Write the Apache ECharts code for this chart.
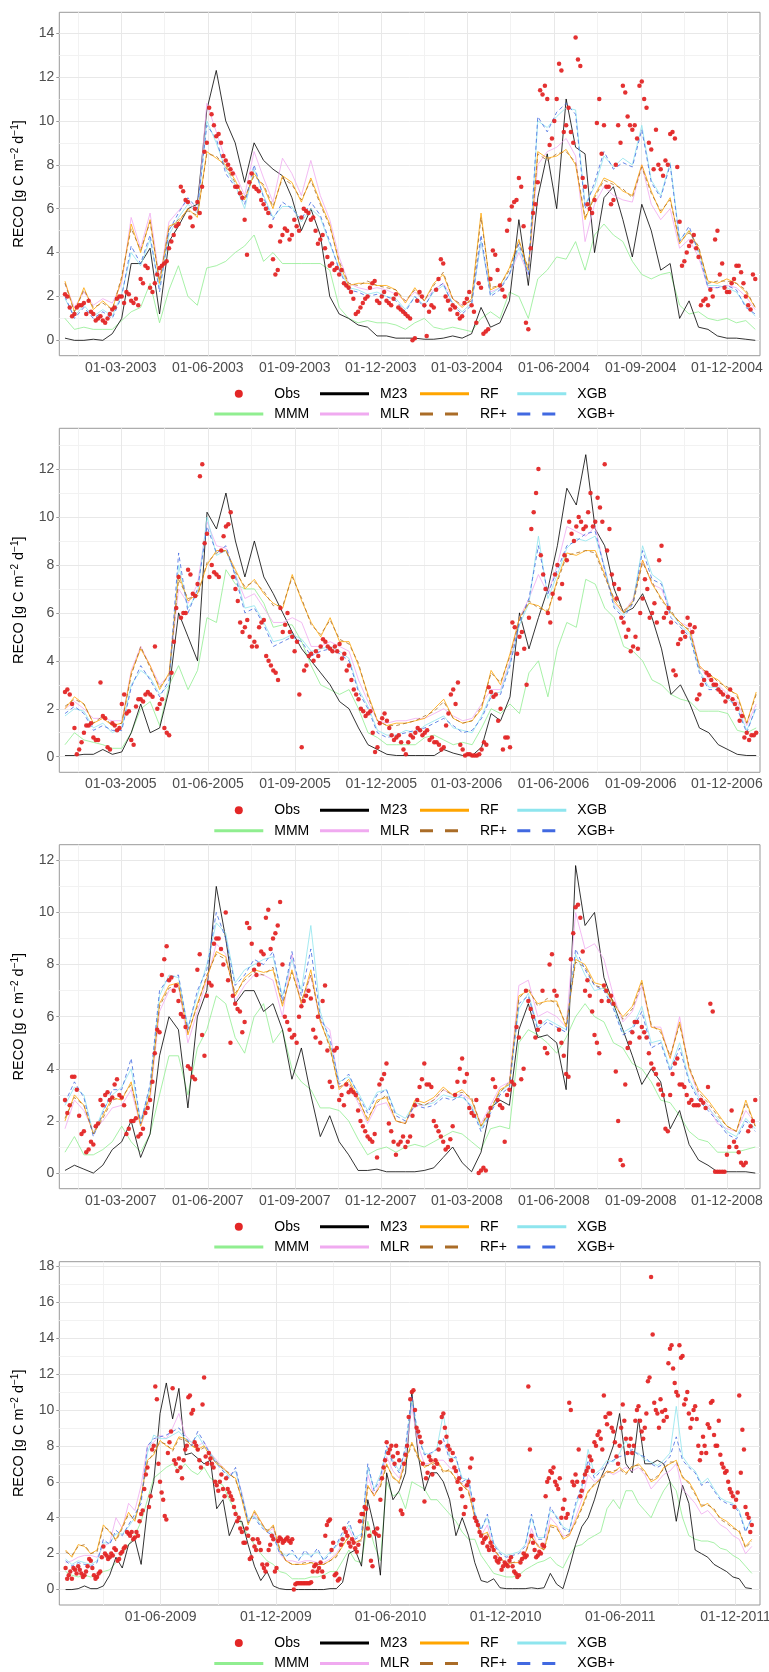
<!DOCTYPE html>
<html>
<head>
<meta charset="utf-8">
<script src="https://cdn.jsdelivr.net/npm/echarts@6/dist/echarts.min.js"></script>
<style>
  html, body { margin: 0; padding: 0; background: #fff; }
  #main { width: 769px; height: 1672px; }
</style>
</head>
<body>
<div id="main"></div>
<script>
// ---------- Daily ecosystem respiration (RECO), observed vs. models ----------
// Model series sampled every 10 days; observations every 5 days (a second set
// of observations sits 2.5 days after the first one).
const LINE_STEP = 10;
const OBS_STEP = 5;
const OBS_B_OFFSET = 2.5;

// Panel 1: 2003-2004
const p1Start = '2003-01-01';
const p1Ticks = ['2003-03-01','2003-06-01','2003-09-01','2003-12-01','2004-03-01','2004-06-01','2004-09-01','2004-12-01'];
const p1Obs = [2.1,1.5,1.2,1.6,1.7,1.8,1.2,1.0,0.9,1.0, 1.4,1.9,2.0,2.2,1.8,1.9,2.8,3.4,2.4,2.6, 3.3,3.5,4.2,4.8,5.3,6.8,6.3,5.2,6.3,7.0, 9.0,10.3,9.3,9.0,8.2,7.8,7.0,6.7,5.5,7.2, 7.0,6.8,6.2,5.8,3.7,3.2,4.8,5.0,4.8,5.2, 5.6,5.9,5.5,5.0,4.6,4.2,3.4,3.2,3.0,2.6, 2.4,1.9,1.3,1.7,2.0,2.6,1.8,2.0,1.8,1.6, 2.1,1.4,1.2,1.0,0.1,2.2,1.6,1.3,1.5,2.8, 3.5,1.8,1.6,1.2,1.1,1.9,1.6,0.8,2.4,0.4, 2.8,3.9,2.5,2.0,5.5,6.3,7.4,5.2,0.5,5.8, 7.2,11.2,11.0,9.2,11.0,12.3,9.8,9.5,13.8,12.5, 7.0,6.0,6.4,11.0,9.8,7.0,6.4,9.8,11.6,10.2, 9.6,9.2,11.8,10.6,8.7,9.6,7.8,8.2,9.4,9.2, 5.4,3.6,4.3,4.8,3.8,1.8,1.6,2.0,5.0,3.5, 2.2,2.6,3.4,3.1,2.0,1.4,2.8];
const p1ObsB = [2.0,1.1,1.5,1.6,1.2,1.3,0.9,1.1,0.8,1.2, 1.5,2.0,1.7,2.1,1.7,1.6,2.6,3.3,2.2,3.0, 3.4,3.6,4.5,5.2,7.0,6.4,5.6,6.0,5.8,8.6, 10.6,9.8,9.4,8.4,8.0,7.6,7.0,6.5,3.9,7.6, 6.9,6.4,6.0,5.2,3.0,4.5,5.1,4.6,5.5,5.0, 6.0,5.8,5.6,4.4,4.8,3.8,3.5,3.3,3.2,2.5, 2.2,1.2,1.5,1.9,2.4,2.7,1.7,2.2,1.7,1.9, 1.5,1.3,1.1,0.0,1.8,2.0,0.2,1.6,2.3,3.7, 2.0,1.4,1.5,1.0,1.7,2.2,1.3,2.6,0.3,0.5, 4.1,3.2,2.3,5.0,6.1,6.4,7.0,0.8,4.2,6.2, 11.4,11.6,8.9,10.0,12.6,9.5,10.6,9.0,12.8,7.4, 6.2,5.8,9.9,8.5,7.0,6.2,8.0,9.0,11.3,9.8, 9.8,11.6,11.0,9.0,7.8,8.0,7.5,8.0,9.5,7.9, 3.4,4.0,4.5,4.2,1.6,1.9,2.3,4.6,3.0,2.4, 2.2,2.8,3.4,2.6,1.6,3.0];
const p1M23 = [0.1,0.0,0.0,0.05,0.0,0.3,1.0,3.5,3.5,4.2, 1.2,4.5,5.2,6.0,6.2,10.5,12.3,10.0,9.0,7.2, 9.0,8.2,7.8,7.5,6.5,5.0,6.0,4.8,2.0,1.2, 1.0,0.7,0.6,0.2,0.2,0.1,0.1,0.1,0.05,0.05, 0.1,0.2,0.1,0.3,1.5,0.6,0.8,1.8,5.5,2.5, 6.5,8.5,6.0,11.0,8.8,8.5,4.0,6.5,7.0,5.5, 3.8,6.2,5.0,3.2,3.5,1.0,1.8,0.6,0.5,0.2, 0.1,0.1,0.05,0.0];
const p1MMM = [1.0,0.5,0.6,0.5,0.5,0.5,0.9,1.3,1.5,2.6, 0.8,2.3,3.4,2.0,1.6,3.3,3.4,3.6,4.0,4.3, 4.8,3.6,4.0,3.5,3.5,3.5,3.5,3.5,3.2,1.5, 1.0,0.8,0.9,0.8,0.8,0.7,0.5,0.8,1.0,0.6, 0.5,0.6,0.5,0.4,1.0,1.3,1.0,2.2,2.0,1.0, 2.8,3.2,3.8,3.7,4.5,3.2,4.8,5.3,4.8,4.5, 3.6,3.0,2.8,3.0,3.1,1.6,1.2,1.3,1.0,0.9, 1.0,0.8,0.9,0.5];
const p1MLR = [2.6,1.5,2.2,1.6,1.9,1.7,2.6,5.6,4.2,5.8, 2.8,5.4,5.9,6.4,5.8,10.8,9.5,8.2,7.6,6.6, 8.6,7.4,6.3,8.3,7.6,6.6,8.2,6.6,5.5,3.8, 2.6,2.4,2.3,2.4,2.3,2.1,1.8,2.2,1.8,2.3, 2.6,1.9,1.6,1.8,4.5,2.2,2.4,3.0,4.0,3.0, 8.0,8.6,8.8,9.2,8.4,4.5,6.2,7.0,6.6,6.4, 6.3,8.0,6.2,5.5,6.0,4.2,4.6,3.8,2.4,2.4, 2.5,2.4,2.0,1.4];
const p1RF = [2.7,1.3,2.4,1.4,1.8,1.4,2.8,5.3,4.0,5.5, 2.6,5.2,5.4,6.0,5.6,8.6,8.3,8.0,7.3,6.4, 7.6,7.0,6.0,7.5,7.2,6.3,7.4,6.3,5.3,3.5, 2.5,2.6,2.6,2.5,2.5,2.3,1.7,2.4,1.8,2.6, 3.0,1.9,1.5,1.9,5.8,2.3,2.5,3.3,4.6,3.2, 8.6,8.3,8.4,8.7,8.0,5.5,6.6,7.4,7.2,6.8, 6.6,8.0,6.8,5.8,6.5,4.4,5.0,4.2,2.7,2.6, 2.8,2.6,2.2,1.5];
const p1RFp = [2.6,1.3,2.3,1.5,1.7,1.4,2.9,5.1,4.1,5.4, 2.7,5.1,5.5,5.9,5.7,8.5,8.4,7.9,7.2,6.5, 7.5,7.1,6.1,7.4,7.1,6.4,7.3,6.2,5.2,3.6, 2.6,2.5,2.7,2.5,2.4,2.3,1.8,2.3,1.8,2.5, 3.1,1.9,1.6,1.8,5.6,2.4,2.5,3.2,4.5,3.3, 8.5,8.2,8.5,8.6,8.1,5.6,6.5,7.3,7.1,6.9, 6.5,7.9,6.7,5.9,6.4,4.5,4.9,4.3,2.6,2.7, 2.7,2.6,2.3,1.5];
const p1XGB = [1.9,1.1,1.6,1.1,1.4,1.1,2.1,4.0,3.4,4.6, 2.4,4.8,5.6,6.2,5.8,10.0,9.0,7.8,7.1,6.0, 7.8,6.6,5.6,6.1,6.1,5.4,6.0,5.6,4.4,3.3, 2.4,2.3,2.1,2.2,2.0,1.9,1.4,2.0,1.6,2.2, 2.5,1.7,1.3,1.7,4.5,2.1,2.4,3.0,4.2,3.1, 10.0,9.7,10.2,10.6,10.5,6.2,7.0,8.4,7.9,8.3, 8.0,9.8,7.3,6.6,8.1,4.6,5.0,4.1,2.5,2.5, 2.4,2.2,1.6,1.1];
const p1XGBp = [2.0,1.0,1.5,1.0,1.3,1.0,2.0,4.3,3.5,4.8, 2.2,5.0,5.8,6.5,6.0,9.8,9.2,7.6,7.0,6.2, 8.0,6.5,5.5,6.3,6.0,5.5,6.3,5.7,4.5,3.2, 2.3,2.2,2.0,2.1,2.0,1.8,1.3,2.0,1.5,2.3, 2.6,1.6,1.2,1.6,4.8,2.0,2.3,3.0,4.4,3.0, 10.2,9.5,10.4,10.8,10.3,6.0,7.2,8.6,7.8,8.1, 7.9,9.6,7.2,6.5,8.0,4.5,5.2,4.0,2.4,2.4, 2.5,2.3,1.5,1.2];

// Panel 2: 2005-2006
const p2Start = '2005-01-01';
const p2Ticks = ['2005-03-01','2005-06-01','2005-09-01','2005-12-01','2006-03-01','2006-06-01','2006-09-01','2006-12-01'];
const p2Obs = [2.7,2.6,1.2,0.3,1.0,1.3,0.8,0.7,1.7,0.4, 1.4,1.1,2.2,1.8,0.7,2.1,2.4,2.6,2.6,4.6, 2.2,1.2,0.9,4.8,7.5,6.0,7.8,6.8,7.2,12.2, 9.3,8.0,7.6,8.6,9.6,10.2,7.0,5.6,5.4,5.0, 4.8,5.4,5.7,4.0,3.6,3.2,5.2,6.0,5.0,4.8, 0.4,3.8,4.3,4.4,4.6,4.8,4.5,4.6,4.7,4.3, 3.8,2.8,2.4,1.9,1.8,1.0,0.4,1.6,1.5,0.9, 0.8,0.6,0.1,0.9,1.0,1.1,1.0,0.7,0.6,0.5, 0.4,1.8,2.8,3.1,0.3,0.1,0.05,0.05,0.3,0.5, 2.7,2.6,2.0,0.8,0.4,5.4,5.0,4.5,5.8,10.2, 12.0,7.6,6.0,6.8,8.0,7.2,8.2,9.3,9.6,9.8, 9.6,11.0,9.8,10.4,12.2,9.5,7.2,7.0,5.6,5.3, 4.6,4.5,6.6,7.0,6.0,5.6,8.8,6.0,5.6,3.4, 4.9,5.0,5.5,5.4,2.6,3.2,3.4,3.0,2.8,2.6, 2.5,2.4,2.0,1.7,1.0,0.9,1.0];
const p2ObsB = [2.8,2.2,0.1,0.6,1.3,1.4,0.7,3.1,1.6,0.3, 1.3,1.2,2.6,1.9,0.5,2.4,2.3,2.7,2.5,2.0, 2.4,1.0,3.5,6.2,5.8,6.0,7.6,6.7,11.7,8.9, 7.5,7.7,7.5,9.2,9.7,7.5,6.5,5.2,5.7,4.6, 4.6,5.6,4.2,3.8,3.5,6.2,5.5,5.2,4.4,2.6, 3.6,4.2,4.0,4.2,4.9,4.6,4.4,4.4,4.1,3.6, 3.2,2.6,2.0,1.7,1.9,0.2,1.4,1.8,1.2,0.7, 0.9,0.3,0.6,0.8,1.2,0.9,1.1,0.8,0.6,0.3, 1.3,2.6,2.2,0.5,0.05,0.1,0.05,0.1,0.6,2.9, 2.5,1.5,0.3,0.8,5.6,4.3,5.2,3.0,9.5,11.0, 8.4,7.0,5.6,7.6,6.6,8.4,9.8,9.0,10.0,9.5, 10.2,9.6,10.8,9.8,8.6,7.6,6.6,5.8,5.0,4.4, 5.0,6.0,7.4,5.8,6.4,8.2,5.8,6.2,3.6,4.7, 5.2,5.8,5.2,2.4,3.0,3.5,3.2,3.0,2.7,2.3, 2.8,2.2,1.5,0.8,0.7,0.9];
const p2M23 = [0.05,0.05,0.1,0.1,0.3,0.1,0.2,1.0,2.2,1.0, 1.2,2.8,6.0,5.0,4.0,10.2,9.5,11.0,9.0,7.5, 9.0,7.5,6.8,6.0,5.2,4.5,4.0,3.5,3.0,2.3, 2.0,1.2,0.5,0.3,0.1,0.05,0.05,0.05,0.05,0.05, 0.3,0.15,0.05,0.05,0.4,1.8,1.5,2.5,6.0,4.5, 5.8,7.0,8.8,11.2,10.5,12.6,9.5,8.8,7.0,6.0, 6.2,6.8,5.8,4.5,2.6,3.0,2.2,1.2,1.0,0.5, 0.3,0.1,0.05,0.05];
const p2MMM = [0.5,1.0,0.7,0.6,0.5,0.35,0.35,1.0,2.0,2.3, 1.3,3.0,3.8,2.8,3.6,5.8,5.6,7.8,7.2,7.0, 7.0,6.4,5.4,5.5,5.5,4.8,3.8,3.0,2.8,2.6, 2.8,2.0,1.0,0.8,0.5,0.5,0.5,0.5,0.8,0.9, 0.7,0.5,0.6,0.5,1.2,2.0,1.8,2.2,1.8,3.5, 4.0,2.5,4.5,5.6,5.4,7.4,7.2,6.2,5.8,4.6, 4.4,4.0,3.2,3.0,2.6,2.4,2.3,1.9,1.9,1.9, 1.8,1.1,1.0,1.2];
const p2MLR = [2.0,2.3,2.0,1.6,1.6,1.5,1.5,3.6,4.6,3.8, 3.0,3.4,7.0,6.4,7.2,9.8,8.8,8.7,7.6,6.6, 6.8,6.2,5.6,5.6,5.8,5.6,4.6,4.6,4.8,4.6, 4.4,3.2,2.3,1.5,1.4,1.5,1.5,1.6,1.6,1.8, 2.0,1.7,1.5,1.6,2.2,2.8,2.8,4.0,5.8,6.6, 7.6,6.8,8.0,9.6,9.4,9.2,9.6,7.8,6.4,6.0, 6.6,8.2,7.2,7.0,6.0,5.6,5.4,3.8,3.2,3.0, 2.6,2.3,1.3,2.2];
const p2RF = [2.0,2.5,2.2,1.4,1.6,1.3,1.4,3.5,4.5,3.8, 2.8,3.5,7.6,6.5,6.8,8.0,8.6,8.6,7.8,7.0, 7.4,6.8,6.4,6.2,7.6,6.5,5.6,5.0,5.8,4.8, 4.8,3.8,2.6,1.5,1.3,1.4,1.4,1.5,1.6,2.0, 2.4,1.6,1.4,1.5,2.0,3.6,3.0,4.3,5.8,6.4, 6.3,6.0,7.4,8.5,8.4,8.6,8.6,7.6,6.5,6.0, 6.5,8.2,7.2,6.6,6.0,5.6,5.2,3.8,3.4,3.2, 2.8,2.6,1.4,2.7];
const p2RFp = [2.1,2.4,2.2,1.4,1.7,1.3,1.4,3.4,4.6,3.7, 2.9,3.4,7.4,6.6,6.7,8.1,8.5,8.6,7.7,7.1, 7.3,6.9,6.3,6.3,7.5,6.6,5.5,5.1,5.7,4.9, 4.7,3.9,2.5,1.5,1.3,1.3,1.4,1.5,1.7,1.9, 2.3,1.6,1.4,1.5,2.1,3.5,3.1,4.2,5.7,6.5, 6.2,6.1,7.3,8.4,8.5,8.6,8.5,7.5,6.6,6.1, 6.4,8.1,7.3,6.5,6.1,5.5,5.3,3.7,3.5,3.1, 2.9,2.5,1.4,2.6];
const p2XGB = [1.7,2.0,1.9,1.2,1.4,1.0,1.2,3.0,3.6,3.3, 2.6,3.0,8.0,6.2,6.8,10.0,8.4,8.6,7.6,6.2, 6.3,5.6,4.8,4.9,5.1,4.9,4.4,4.5,4.6,4.4, 4.1,2.8,2.1,1.1,0.9,0.9,1.1,1.0,1.3,1.5, 1.7,1.2,1.1,1.0,1.7,2.6,2.7,3.9,5.5,6.4, 9.2,6.6,7.6,8.7,9.1,9.0,9.2,7.9,6.3,5.9, 6.5,8.8,7.6,7.3,6.0,5.5,5.1,3.6,2.9,2.9, 2.4,2.1,1.1,2.0];
const p2XGBp = [1.8,2.1,1.8,1.1,1.3,1.1,1.1,2.9,3.8,3.2, 2.5,3.2,8.5,6.0,7.0,9.6,8.5,8.8,7.5,6.0, 6.2,5.5,4.6,4.8,5.0,4.8,4.2,4.4,4.5,4.3, 4.0,2.7,2.0,1.0,0.8,0.9,1.0,1.1,1.2,1.4, 1.6,1.3,1.0,1.1,1.6,2.5,2.6,3.8,5.6,6.6, 8.8,6.8,7.8,8.8,9.0,9.3,9.4,7.8,6.2,5.8, 6.4,8.6,7.4,7.2,5.8,5.4,5.0,3.5,2.8,2.8, 2.5,2.0,1.0,2.1];

// Panel 3: 2007-2008
const p3Start = '2007-01-01';
const p3Ticks = ['2007-03-01','2007-06-01','2007-09-01','2007-12-01','2008-03-01','2008-06-01','2008-09-01','2008-12-01'];
const p3Obs = [2.8,2.6,3.7,2.2,1.6,0.9,1.1,1.9,2.6,3.1, 2.9,3.6,2.9,1.5,2.0,2.1,1.5,2.3,2.8,4.6, 5.4,8.2,7.4,7.0,6.6,6.0,4.1,3.7,7.8,5.3, 6.8,7.2,9.0,8.6,10.0,5.0,6.5,6.2,5.8,9.4, 7.8,8.0,8.4,10.1,9.0,9.5,8.0,5.8,5.2,5.0, 6.4,6.8,6.7,5.2,5.0,7.2,3.5,4.7,2.8,2.6, 3.1,3.1,2.4,1.8,1.4,1.2,0.6,3.6,4.2,1.6, 0.7,1.2,1.0,1.4,2.6,3.3,4.2,3.4,2.0,1.6, 1.2,1.0,1.8,3.5,4.4,3.8,2.3,2.8,0.1,0.1, 2.5,3.3,2.6,1.2,3.2,3.4,5.2,4.0,6.6,6.0, 5.5,7.0,4.6,8.4,6.8,5.0,3.8,8.2,10.2,9.8, 7.0,6.8,5.3,4.6,7.2,6.6,6.5,2.0,0.3,4.8, 5.4,5.8,5.6,5.2,4.2,3.8,3.2,1.7,3.0,4.2, 3.4,3.3,2.7,2.6,2.6,2.7,3.3,6.2,0.05,0.05, 0.7,2.4,1.0,0.4,0.4,1.8,2.8];
const p3ObsB = [2.3,3.7,3.2,1.5,0.8,1.2,1.8,2.8,3.0,2.8, 3.4,3.0,2.6,1.7,2.0,1.4,1.7,2.5,3.5,5.5, 7.6,8.7,7.5,7.2,6.1,5.6,4.0,3.6,8.4,4.5, 7.3,8.8,9.0,8.0,7.4,6.8,6.3,5.4,9.6,8.8, 7.6,8.5,9.8,8.6,9.2,10.4,6.0,5.5,5.3,6.0, 6.6,7.0,5.5,6.0,6.6,4.7,3.3,4.8,3.0,3.4, 3.2,3.0,2.0,1.6,1.3,1.5,3.4,3.8,1.9,1.2, 1.1,1.4,1.2,2.2,2.8,3.6,3.4,3.3,1.8,1.4, 0.9,1.3,3.0,4.0,3.5,2.5,2.2,0.0,0.2,2.2, 3.6,2.8,2.5,3.0,3.5,5.6,3.6,7.0,6.3,5.2, 5.8,4.8,8.0,7.0,5.5,4.5,3.7,9.2,10.3,8.5, 7.4,6.2,5.0,6.6,7.0,6.8,3.9,0.5,3.4,5.0, 5.8,5.2,5.4,4.6,4.0,3.4,3.0,1.6,3.8,4.4, 3.4,3.0,2.8,2.6,2.8,2.5,6.5,0.05,0.05,0.05, 1.0,1.2,0.8,0.3,1.6,2.0];
const p3M23 = [0.1,0.3,0.15,0.0,0.3,0.9,1.2,2.0,0.6,1.5, 4.5,6.0,5.5,2.5,6.0,7.0,11.0,9.0,6.5,7.0, 7.0,6.2,6.5,5.5,3.6,4.8,3.0,1.4,2.2,1.2, 0.7,0.1,0.1,0.15,0.05,0.05,0.05,0.05,0.1,0.2, 0.6,1.0,0.4,0.05,0.8,2.5,2.8,2.6,5.5,6.5, 5.2,5.3,5.0,3.2,11.8,9.5,10.0,7.5,6.5,5.5, 4.5,3.4,4.0,3.5,1.7,2.4,1.1,0.5,0.3,0.05, 0.05,0.05,0.05,0.0];
const p3MMM = [0.8,1.4,0.7,0.7,0.9,1.2,1.8,1.2,0.8,1.5, 3.0,4.5,4.5,3.0,4.8,5.5,6.8,6.5,5.2,4.6, 6.0,6.5,5.0,5.5,4.0,3.5,3.2,2.5,2.5,2.4, 2.0,1.3,0.7,0.9,1.0,0.8,1.0,1.1,1.0,1.2, 1.4,1.6,1.5,1.2,0.9,1.7,1.8,1.7,5.0,5.5, 5.3,5.0,4.6,5.2,6.0,6.5,6.0,5.8,5.0,4.8, 4.2,4.0,3.5,2.8,2.7,2.2,1.6,1.3,1.2,0.8, 0.8,0.8,0.9,1.0];
const p3MLR = [1.7,2.8,2.4,1.6,2.0,2.5,2.6,3.2,1.8,2.8, 6.2,7.0,7.2,5.0,6.2,7.4,8.8,8.4,6.6,7.2, 7.6,7.6,7.4,6.0,8.4,6.4,7.6,5.8,5.5,3.3, 3.4,2.7,1.9,2.6,2.7,2.0,1.9,2.6,2.6,2.8, 3.2,3.0,3.0,2.8,1.9,2.6,3.3,3.5,7.2,7.4, 6.0,6.2,6.0,5.6,10.0,8.6,8.8,8.2,6.8,5.8, 6.2,7.2,5.6,5.6,4.4,6.0,4.0,3.0,2.6,1.9, 1.7,1.6,2.4,1.9];
const p3RF = [2.0,3.0,2.6,1.5,2.2,2.9,2.8,3.5,1.8,3.0, 6.5,7.2,7.3,5.3,6.5,7.5,8.5,8.3,6.8,7.5, 7.8,7.7,7.8,6.4,7.8,6.5,7.8,5.8,4.9,3.2, 3.6,2.9,2.0,2.8,2.9,2.0,1.9,2.8,2.7,2.9, 3.3,3.0,3.2,2.8,1.8,2.4,3.2,3.4,6.8,7.0, 6.5,6.6,6.6,5.6,8.2,8.0,7.3,7.2,6.5,6.0, 6.4,7.4,5.6,5.5,4.4,5.8,4.0,3.2,2.8,2.3, 1.8,1.6,2.8,1.8];
const p3RFp = [2.1,2.9,2.6,1.5,2.1,2.8,2.9,3.4,1.9,3.1, 6.4,7.1,7.2,5.4,6.4,7.6,8.4,8.2,6.9,7.4, 7.7,7.6,7.9,6.5,7.7,6.6,7.6,5.9,4.8,3.3, 3.5,2.8,2.1,2.7,3.0,2.0,1.9,2.7,2.6,2.8, 3.2,3.0,3.1,2.9,1.8,2.5,3.1,3.5,6.7,7.1, 6.4,6.7,6.5,5.7,8.1,7.9,7.2,7.1,6.6,5.9, 6.3,7.3,5.7,5.4,4.5,5.7,4.1,3.1,2.7,2.2, 1.8,1.6,2.7,1.8];
const p3XGB = [2.6,3.3,3.0,1.5,2.4,3.0,3.3,4.0,2.0,3.3, 6.8,7.6,7.5,5.6,6.8,8.0,9.6,9.2,7.3,7.8, 8.0,8.2,8.3,6.8,8.2,7.0,9.5,6.2,5.0,3.5, 3.7,3.1,2.4,3.1,3.2,2.3,2.1,2.7,2.6,2.7, 3.0,2.9,2.9,2.6,1.7,2.4,3.1,3.4,6.3,6.9, 5.6,5.9,5.7,5.5,8.4,7.6,7.0,7.1,6.4,5.4, 5.6,6.4,5.0,5.1,4.0,5.0,3.6,2.9,2.5,2.1, 1.6,1.4,2.1,1.7];
const p3XGBp = [2.7,3.5,2.9,1.4,2.3,3.2,3.2,4.4,1.9,3.4, 7.0,7.5,7.6,5.5,7.0,7.8,10.0,9.0,7.2,7.6, 8.2,8.0,8.5,6.6,8.5,6.8,8.6,6.0,5.2,3.4, 3.8,3.0,2.3,3.0,3.2,2.2,2.0,2.6,2.5,2.6, 2.9,2.8,3.0,2.5,1.6,2.3,3.0,3.3,6.5,6.8, 5.5,5.8,5.6,5.4,8.6,7.8,7.2,7.0,6.3,5.3, 5.5,6.2,4.8,5.0,3.9,4.8,3.5,2.8,2.4,2.0, 1.5,1.3,2.0,1.6];

// Panel 4: 2009-2011
const p4Start = '2009-01-01';
const p4Ticks = ['2009-06-01','2009-12-01','2010-06-01','2010-12-01','2011-06-01','2011-12-01'];
const p4Obs = [1.2,0.8,0.6,1.1,1.3,0.9,0.8,1.3,1.6,0.8, 0.7,1.0,2.4,1.9,1.8,1.9,2.2,1.7,2.1,2.4, 3.1,3.2,2.9,3.0,4.2,5.6,6.8,5.2,8.0,10.6, 6.0,5.0,3.9,8.2,11.2,7.0,7.3,6.2,7.8,10.7, 9.8,8.2,7.8,6.8,11.8,7.0,7.3,6.8,5.8,6.0, 5.6,6.2,5.4,5.0,4.2,4.0,3.2,2.6,3.0,1.8, 2.4,2.8,2.2,1.2,1.4,2.5,2.8,1.2,2.9,2.6, 2.8,2.7,2.8,0.3,0.35,0.35,0.35,0.35,0.4,1.3, 1.0,1.5,0.7,3.6,3.9,2.6,0.9,0.6,2.8,3.2, 2.6,2.8,2.3,2.5,4.2,4.6,3.4,1.6,3.2,3.4, 5.0,6.8,8.2,7.8,7.4,8.0,7.2,4.2,7.5,9.6, 11.0,10.0,8.8,8.2,4.9,6.5,7.2,6.8,7.0,8.2, 9.8,8.5,7.8,7.6,6.6,6.2,5.2,4.6,6.0,7.3, 4.0,3.6,3.0,2.8,2.4,2.6,2.2,1.6,1.7,1.3, 1.4,1.6,1.3,0.9,0.8,1.7,1.8,11.3,3.0,2.2, 1.9,2.0,2.4,6.0,6.6,6.8,5.8,6.2,4.5,4.0, 10.4,6.0,6.4,7.8,5.5,6.4,6.8,7.2,8.2,8.6, 8.4,10.8,9.2,9.8,8.8,7.4,8.0,10.3,8.4,8.0, 7.6,9.4,10.2,8.8,9.0,11.6,17.4,10.4,9.8,10.6, 9.4,9.6,13.4,12.3,11.0,13.6,13.0,10.6,9.8,9.5, 10.2,8.0,7.6,8.0,9.2,10.4,8.6,8.0,7.5,6.8, 6.6,5.6,5.2,5.0,10.8,8.9,4.6,4.0,3.6];
const p4ObsB = [0.6,1.0,1.2,0.9,1.1,0.7,1.0,1.7,1.2,0.6, 0.9,1.8,2.0,1.7,2.0,2.3,1.6,2.0,2.3,3.2, 3.0,2.8,3.2,3.8,4.4,6.4,4.6,7.8,11.3,7.0, 5.4,4.1,7.6,8.8,7.2,6.6,6.8,7.2,8.0,10.8, 10.0,8.0,7.2,10.3,7.4,7.6,7.0,6.0,5.5,6.4, 5.2,5.6,5.2,4.6,3.8,3.4,2.6,3.4,1.7,2.8, 2.2,2.6,1.4,1.0,2.2,3.0,1.0,2.7,2.8,2.7, 2.9,2.6,0.0,0.35,0.35,0.35,0.35,0.35,1.0,1.4, 1.2,1.0,3.0,3.8,2.2,0.8,0.5,2.5,3.4,3.0, 2.4,2.6,2.1,3.8,4.2,4.5,3.0,1.3,3.1,3.0, 6.2,7.2,7.6,8.0,7.0,7.6,4.4,7.0,8.0,10.6, 11.1,9.0,8.5,7.0,6.2,7.4,6.4,7.2,7.8,9.6, 9.0,8.0,7.2,6.8,6.0,5.6,4.2,5.8,6.8,5.0, 3.8,3.2,2.6,2.9,2.2,2.4,1.8,1.5,1.1,1.5, 1.3,1.8,1.0,0.7,1.5,2.0,1.9,7.8,2.6,1.8, 2.1,2.5,5.2,6.2,6.5,6.0,5.6,4.0,5.0,4.2, 10.0,5.8,6.0,5.2,6.0,6.6,7.4,6.6,8.0,8.8, 7.8,9.6,9.8,9.0,8.2,7.0,9.0,9.4,7.6,8.4, 8.0,10.0,9.4,8.4,9.8,11.8,14.2,10.0,9.0,9.9, 10.0,12.6,13.6,11.5,10.8,12.9,10.3,11.0,9.0,10.0, 9.5,7.2,8.5,7.6,9.0,10.5,8.0,9.4,7.0,6.5, 6.0,5.4,4.6,5.4,6.5,7.8,4.2,3.2];
const p4M23 = [0.0,0.0,0.05,0.2,0.05,0.05,0.2,0.8,1.8,1.2, 2.5,2.8,1.4,4.5,6.0,9.8,11.5,9.5,11.2,7.5, 7.6,7.3,7.0,7.2,4.5,5.0,3.0,3.8,3.8,2.5, 1.3,0.5,1.0,0.2,0.05,0.0,0.0,0.0,0.0,0.0, 0.0,0.0,0.05,0.05,0.4,2.0,2.2,1.3,5.0,3.5, 0.8,6.5,5.0,5.5,6.5,11.0,7.5,5.5,6.5,6.5, 6.0,5.0,3.0,4.0,3.0,1.5,0.5,0.4,0.6,0.1, 0.05,0.05,0.05,0.05,0.1,0.05,0.1,0.9,0.3,0.05, 1.2,2.5,3.5,4.0,5.0,6.2,7.0,8.0,9.8,7.0, 6.5,9.5,7.0,7.0,7.2,7.0,6.0,3.8,5.8,4.8, 2.2,2.0,1.8,1.4,1.2,1.0,0.7,0.6,0.1,0.05];
const p4MMM = [1.0,0.8,0.7,0.8,0.7,0.8,1.0,1.1,1.5,2.0, 2.5,3.0,3.8,5.0,6.2,6.5,6.8,7.0,6.6,7.0, 6.6,6.4,6.8,6.2,6.0,5.8,5.0,4.4,3.6,3.0, 2.5,2.0,1.6,1.4,1.0,0.9,0.6,0.6,0.6,0.7, 0.7,0.8,1.0,1.0,1.6,2.2,1.6,1.5,3.8,2.5, 1.6,6.0,5.2,5.4,4.5,6.0,5.8,5.6,5.0,5.0, 4.6,4.2,3.8,3.2,2.8,2.8,1.9,1.4,0.9,0.8, 0.7,0.7,0.8,1.1,1.3,1.5,1.6,1.8,1.4,1.2, 1.9,2.4,2.5,2.8,3.0,3.2,4.5,5.0,4.5,5.5, 5.5,4.8,4.4,4.0,4.8,5.5,6.0,5.5,4.0,3.0, 2.8,2.7,2.7,2.6,2.3,2.2,1.9,1.7,1.3,0.9];
const p4MLR = [1.5,1.6,1.8,1.9,1.9,1.8,2.4,2.6,4.0,3.4, 4.8,4.4,5.8,8.0,8.2,8.6,8.4,9.0,9.8,8.6, 8.2,8.0,8.2,7.6,7.2,6.8,6.4,6.6,5.4,3.8, 4.2,3.8,3.2,3.4,2.0,1.6,1.6,1.5,1.6,1.6, 1.5,1.5,1.7,2.0,2.6,3.4,2.6,2.8,6.4,5.2, 6.0,7.4,6.6,6.2,7.4,10.2,8.0,7.0,7.0,7.2, 7.2,6.8,6.6,5.8,5.8,4.0,3.0,3.6,2.2,1.7, 1.4,1.5,1.5,2.0,3.4,2.4,2.4,4.0,3.6,3.0, 3.0,4.0,5.0,6.4,6.0,6.2,6.6,6.4,6.6,6.8, 6.6,6.8,6.4,5.6,6.0,6.4,6.6,7.0,5.6,5.2, 4.8,4.2,4.4,4.0,3.6,3.4,3.0,2.8,2.0,2.4];
const p4RF = [2.2,1.8,2.5,2.4,2.0,2.2,3.6,3.2,2.8,3.5, 4.3,3.8,5.2,7.2,7.5,8.3,8.0,7.8,8.5,8.4, 8.0,7.8,8.0,7.4,7.0,6.8,6.4,6.2,5.0,3.6, 4.4,3.8,3.2,3.6,2.2,1.6,1.4,1.4,1.4,1.5, 1.4,1.4,1.6,1.9,2.4,3.0,2.6,2.8,5.8,5.2, 5.8,7.0,6.2,6.0,7.2,8.2,7.4,6.8,7.0,7.2, 6.6,6.6,6.2,5.8,5.5,4.0,3.0,3.2,2.2,1.8, 1.4,1.5,1.5,2.0,3.0,2.4,2.2,3.6,3.5,2.8, 3.0,3.8,4.6,5.5,5.8,6.2,6.6,6.5,6.8,6.5, 6.8,7.0,6.6,6.0,6.2,6.8,7.0,7.2,6.2,6.0, 5.4,4.6,4.8,4.4,4.0,3.8,3.5,3.2,2.4,2.8];
const p4RFp = [2.1,1.9,2.4,2.5,2.0,2.1,3.5,3.3,2.7,3.4, 4.2,3.9,5.1,7.1,7.6,8.2,8.1,7.7,8.4,8.3, 8.1,7.7,7.9,7.5,7.1,6.7,6.5,6.1,5.1,3.7, 4.3,3.7,3.3,3.5,2.3,1.6,1.4,1.4,1.5,1.5, 1.4,1.4,1.6,1.8,2.5,2.9,2.7,2.7,5.7,5.3, 5.7,6.9,6.3,5.9,7.1,8.1,7.3,6.9,6.9,7.1, 6.5,6.7,6.1,5.9,5.4,4.1,3.1,3.1,2.3,1.8, 1.4,1.5,1.6,2.0,2.9,2.5,2.2,3.5,3.4,2.9, 3.1,3.7,4.5,5.4,5.9,6.1,6.5,6.6,6.7,6.4, 6.9,6.9,6.5,6.1,6.3,6.7,7.1,7.1,6.3,5.9, 5.3,4.7,4.7,4.5,3.9,3.7,3.4,3.3,2.3,2.7];
const p4XGB = [1.7,1.4,1.6,1.5,1.4,1.6,2.6,2.6,3.1,3.1, 3.5,4.0,5.0,7.6,8.6,8.4,8.4,8.6,8.8,8.4, 8.2,8.6,8.0,7.6,7.1,6.7,6.3,6.6,5.3,3.9, 4.1,3.6,3.3,3.1,2.1,1.9,2.0,1.7,2.0,1.9, 2.1,1.7,2.1,2.4,3.0,3.6,2.9,3.1,6.8,5.6, 6.4,7.8,7.2,6.6,7.8,10.6,8.6,7.6,7.5,7.9, 9.8,7.4,7.3,6.2,6.1,4.3,3.4,4.0,2.6,2.1, 1.9,2.0,2.1,2.5,4.0,2.9,2.9,4.4,4.1,3.5, 3.3,4.6,5.6,7.8,6.4,6.7,7.2,7.1,7.6,8.3, 7.6,7.6,7.2,7.1,6.9,7.2,7.6,10.2,7.4,6.9, 6.6,5.9,6.2,5.6,5.1,4.9,4.8,4.4,3.3,3.9];
const p4XGBp = [1.6,1.3,1.5,1.4,1.3,1.5,2.8,2.5,3.3,3.0, 3.6,4.2,4.8,8.0,8.4,8.5,8.6,8.8,9.0,8.5, 8.0,8.8,8.2,7.5,7.0,6.6,6.2,6.8,5.2,3.8, 4.0,3.5,3.2,3.0,2.0,1.8,2.2,1.6,2.2,1.8, 2.3,1.6,2.0,2.5,3.2,3.8,2.8,3.0,7.0,5.5, 6.2,8.0,7.0,6.5,8.0,10.8,8.5,7.5,7.6,7.8, 8.4,7.2,7.4,6.0,6.2,4.2,3.3,4.2,2.5,2.0, 1.8,1.9,2.0,2.4,4.2,2.8,2.8,4.6,4.0,3.4, 3.2,4.8,5.8,7.2,6.2,6.6,7.0,7.2,7.4,7.5, 7.8,7.5,7.4,7.0,6.8,7.0,7.4,8.5,7.2,6.8, 6.5,5.8,6.0,5.5,5.0,4.8,4.7,4.3,3.2,4.0];

// Y tick labels per panel
const p1YTicks = [0,2,4,6,8,10,12,14];
const p2YTicks = [0,2,4,6,8,10,12];
const p3YTicks = [0,2,4,6,8,10,12];
const p4YTicks = [0,2,4,6,8,10,12,14,16,18];

// ---------- layout & style ----------
const FONT = 'Liberation Sans, Arial, Helvetica, sans-serif';
const DAY = 86400000;
const ts = s => Date.parse(s + 'T00:00:00Z');

const panels = [
  { top: 12.3, height: 343.4, xMin: '2002-12-26', xMax: '2005-01-05', yMin: -0.7, yMax: 14.95, start: p1Start, ticks: p1Ticks, yTicks: p1YTicks, step: 3,
    obs: p1Obs, obsB: p1ObsB, lines: { MMM: p1MMM, M23: p1M23, MLR: p1MLR, XGB: p1XGB, RF: p1RF, 'RF+': p1RFp, 'XGB+': p1XGBp } },
  { top: 428.3, height: 344, xMin: '2004-12-26', xMax: '2007-01-05', yMin: -0.65, yMax: 13.7, start: p2Start, ticks: p2Ticks, yTicks: p2YTicks, step: 3,
    obs: p2Obs, obsB: p2ObsB, lines: { MMM: p2MMM, M23: p2M23, MLR: p2MLR, XGB: p2XGB, RF: p2RF, 'RF+': p2RFp, 'XGB+': p2XGBp } },
  { top: 844.7, height: 344, xMin: '2006-12-26', xMax: '2009-01-05', yMin: -0.6, yMax: 12.6, start: p3Start, ticks: p3Ticks, yTicks: p3YTicks, step: 3,
    obs: p3Obs, obsB: p3ObsB, lines: { MMM: p3MMM, M23: p3M23, MLR: p3MLR, XGB: p3XGB, RF: p3RF, 'RF+': p3RFp, 'XGB+': p3XGBp } },
  { top: 1261.7, height: 343.3, xMin: '2008-12-22', xMax: '2012-01-09', yMin: -0.86, yMax: 18.25, start: p4Start, ticks: p4Ticks, yTicks: p4YTicks, step: 6,
    obs: p4Obs, obsB: p4ObsB, lines: { MMM: p4MMM, M23: p4M23, MLR: p4MLR, XGB: p4XGB, RF: p4RF, 'RF+': p4RFp, 'XGB+': p4XGBp } }
];

const GRID_LEFT = 59.3, GRID_WIDTH = 700.7;

// drawing order: first is lowest
const lineStyles = [
  { name: 'MMM',  color: '#90ee90' },
  { name: 'M23',  color: '#000000' },
  { name: 'MLR',  color: '#f0aaf0' },
  { name: 'XGB',  color: '#8ee5ee' },
  { name: 'RF',   color: '#ffa500' },
  { name: 'RF+',  color: '#aa6c27', dashed: true },
  { name: 'XGB+', color: '#4169e1', dashed: true }
];
const OBS_COLOR = '#e32626';
const colorOf = { Obs: OBS_COLOR };
lineStyles.forEach(s => colorOf[s.name] = s.color);

const ICON_SOLID  = 'path://M0,7.5H49V10.5H0Z M55,18 M0,0';
const ICON_DASHED = 'path://M0,7.5H13V10.5H0Z M25,7.5H38V10.5H25Z M55,18 M0,0';
const ICON_DOT    = 'path://M20.5,9A4,4 0 1,1 28.5,9A4,4 0 1,1 20.5,9Z M55,18 M0,0';
const legendRows = [['Obs','M23','RF','XGB'], ['MMM','MLR','RF+','XGB+']];
const legendCols = [214.3, 320, 420, 517.3];
const iconOf = n => n === 'Obs' ? ICON_DOT : (n === 'RF+' || n === 'XGB+') ? ICON_DASHED : ICON_SOLID;

function fmtDate(v) {
  const d = new Date(v);
  const p = n => String(n).padStart(2, '0');
  return p(d.getUTCDate()) + '-' + p(d.getUTCMonth() + 1) + '-' + d.getUTCFullYear();
}
function toPairs(start, step, vals, offsetDays) {
  const t0 = ts(start) + (offsetDays || 0) * DAY;
  return vals.map((v, i) => [t0 + i * step * DAY, v]);
}
function addMonths(t, m) {
  const d = new Date(t);
  return Date.UTC(d.getUTCFullYear(), d.getUTCMonth() + m, 1);
}

const grids = [], xAxes = [], yAxes = [], series = [], legends = [];

panels.forEach((p, k) => {
  const xMin = ts(p.xMin), xMax = ts(p.xMax);
  const major = p.ticks.map(ts);
  const ext = [addMonths(major[0], -p.step)].concat(major, [addMonths(major[major.length - 1], p.step)]);
  const minor = [];
  for (let i = 0; i < ext.length - 1; i++) {
    const m = (ext[i] + ext[i + 1]) / 2;
    if (m > xMin && m < xMax) minor.push(m);
  }
  const yMinor = [];
  for (let v = Math.ceil(p.yMin); v < p.yMax; v++) if (Math.abs(v % 2) === 1) yMinor.push(v);

  grids.push({ left: GRID_LEFT, top: p.top, width: GRID_WIDTH, height: p.height, show: true,
    borderColor: '#999999', borderWidth: 1, backgroundColor: '#ffffff', containLabel: false, outerBoundsMode: 'none' });

  // dates are plotted as UTC millisecond values on a numeric axis
  xAxes.push({
    type: 'value', gridIndex: k, min: xMin, max: xMax, scale: true,
    axisLine: { show: false }, splitLine: { show: false }, minorSplitLine: { show: false },
    axisTick: { show: true, length: 3, customValues: major, lineStyle: { color: '#999999', width: 1 } },
    axisLabel: { customValues: major, formatter: fmtDate, color: '#4d4d4d', fontSize: 14, fontFamily: FONT, margin: 5, hideOverlap: false }
  });
  yAxes.push({
    type: 'value', gridIndex: k, min: p.yMin, max: p.yMax,
    axisLine: { show: false }, splitLine: { show: false },
    axisTick: { show: true, length: 3, customValues: p.yTicks, lineStyle: { color: '#999999', width: 1 } },
    axisLabel: { customValues: p.yTicks, color: '#4d4d4d', fontSize: 14, fontFamily: FONT, margin: 5 },
    name: 'RECO [g C m{s|\u22122} d{s|\u22121}]',
    nameLocation: 'middle', nameRotate: 90, nameGap: 29,
    nameTextStyle: { color: '#000', fontSize: 14.5, fontFamily: FONT, lineHeight: 18,
      rich: { s: { fontSize: 10, fontFamily: FONT, color: '#000', verticalAlign: 'top', lineHeight: 12 } } }
  });

  // panel grid lines
  const gl = [];
  const MAJ = { color: '#e8e8e8', width: 1, type: 'solid' };
  const MIN = { color: '#f2f2f2', width: 1, type: 'solid' };
  minor.forEach(t => gl.push({ xAxis: t, lineStyle: MIN }));
  yMinor.forEach(v => gl.push({ yAxis: v, lineStyle: MIN }));
  major.forEach(t => gl.push({ xAxis: t, lineStyle: MAJ }));
  p.yTicks.forEach(v => gl.push({ yAxis: v, lineStyle: MAJ }));
  series.push({
    name: 'grid', type: 'line', xAxisIndex: k, yAxisIndex: k, data: [[xMin, 0]],
    symbol: 'none', lineStyle: { width: 0 }, silent: true, animation: false, z: 1,
    markLine: { silent: true, z: 1, symbol: ['none', 'none'], label: { show: false }, animation: false, data: gl }
  });

  lineStyles.forEach(s => {
    series.push({
      name: s.name, type: 'line', xAxisIndex: k, yAxisIndex: k,
      data: toPairs(p.start, LINE_STEP, p.lines[s.name]),
      showSymbol: false, symbol: 'none', animation: false, silent: true, z: 2,
      color: s.color,
      lineStyle: { color: s.color, width: 0.8, type: s.dashed ? [4, 3] : 'solid' }
    });
  });
  series.push({
    name: 'Obs', type: 'scatter', xAxisIndex: k, yAxisIndex: k,
    data: toPairs(p.start, OBS_STEP, p.obs).concat(toPairs(p.start, OBS_STEP, p.obsB, OBS_B_OFFSET)),
    symbol: 'circle', symbolSize: 4.5, color: OBS_COLOR, itemStyle: { color: OBS_COLOR, opacity: 0.95 },
    animation: false, silent: true, z: 3
  });

  const row1 = p.top + p.height + 38;
  legendRows.forEach((row, r) => {
    const cy = row1 + r * 20.4;
    row.forEach((name, c) => {
      legends.push({
        left: legendCols[c], top: cy - 9, padding: 0, orient: 'horizontal',
        itemWidth: 55, itemHeight: 18, itemGap: 0, selectedMode: false, symbolKeepAspect: false,
        textStyle: { fontSize: 14, color: '#000', fontFamily: FONT },
        data: [{ name, icon: iconOf(name), itemStyle: { color: colorOf[name], borderWidth: 0, opacity: 1 } }]
      });
    });
  });
});

const chart = echarts.init(document.getElementById('main'), null, { renderer: 'canvas' });
chart.setOption({
  animation: false,
  backgroundColor: '#ffffff',
  textStyle: { fontFamily: FONT },
  grid: grids,
  xAxis: xAxes,
  yAxis: yAxes,
  legend: legends,
  series
});
</script>
</body>
</html>
